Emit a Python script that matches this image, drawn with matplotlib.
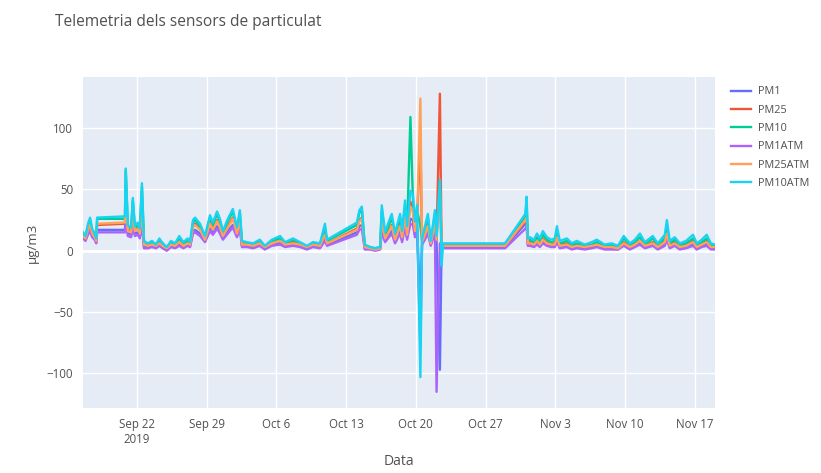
import matplotlib.pyplot as plt
import pandas as pd

# sample times (2019), hour resolution
times = [
    "09-16 14", "09-16 20", "09-17 02", "09-17 07", "09-17 12", "09-17 18", "09-17 22", "09-18 00",
    "09-20 19", "09-20 21", "09-21 02", "09-21 10", "09-21 14", "09-21 19", "09-22 02", "09-22 07",
    "09-22 12", "09-22 17",
    "09-23 02", "09-23 12", "09-23 22", "09-24 06", "09-24 14", "09-25 00", "09-25 10", "09-25 20",
    "09-26 06", "09-26 16", "09-27 02", "09-27 08",
    "09-27 15", "09-27 20", "09-28 08", "09-28 20", "09-29 08", "09-29 15", "09-30 01", "09-30 08",
    "09-30 15", "10-01 03", "10-01 15", "10-02 01", "10-02 08", "10-02 13",
    "10-03 01", "10-03 16", "10-04 08", "10-04 20", "10-05 13", "10-06 09", "10-06 21", "10-07 16",
    "10-08 09", "10-09 02", "10-09 16", "10-10 09", "10-10 21", "10-11 02", "10-14 02", "10-14 08",
    "10-14 14", "10-14 21",
    "10-15 10", "10-15 22", "10-16 10", "10-16 14", "10-16 22", "10-17 05", "10-17 14", "10-17 22",
    "10-18 10", "10-18 15", "10-18 22", "10-19 03", "10-19 11", "10-19 17", "10-19 22", "10-20 03",
    "10-20 11", "10-20 15", "10-20 22", "10-21 05", "10-21 12", "10-21 22", "10-22 02", "10-22 10",
    "10-22 14", "10-22 18", "10-28 23", "10-31 00", "10-31 03", "10-31 06",
    "10-31 11", "10-31 21", "11-01 04", "11-01 11", "11-01 18", "11-02 04", "11-02 14", "11-02 23",
    "11-03 04", "11-03 11", "11-04 04", "11-04 16", "11-05 04", "11-05 23", "11-06 16", "11-07 04",
    "11-07 23", "11-08 16", "11-09 07", "11-09 21", "11-10 12", "11-11 00", "11-11 12", "11-12 00",
    "11-12 19", "11-13 07", "11-14 00", "11-14 05", "11-14 12", "11-15 00", "11-15 12", "11-16 03",
    "11-16 20", "11-17 05", "11-17 17", "11-18 05", "11-18 15", "11-19 01",
]

pm1 = [
    11, 9, 15, 18, 13, 10, 7, 17, 17, 30, 14, 13, 22, 14, 15, 12, 25, 3,
    3, 4, 3, 5, 3, 1, 4, 3, 5, 3, 5, 4,
    16, 17, 14, 8, 18, 15, 20, 16, 10, 16, 21, 12, 21, 4,
    4, 3, 5, 2, 5, 6, 4, 5, 4, 2, 4, 3, 10, 5, 15, 20, 21, 2,
    2, 1, 2, 18, 8, 12, 16, 7, 16, 9, 22, 11, 26, 25, 13, 20, -50, 6, 11, 16, 5, 18, 7, -97, 3, 3, 3, 22, 24, 5,
    5, 4, 6, 4, 7, 5, 4, 4, 9, 3, 4, 2, 3, 2, 3, 4, 2, 2, 1, 5, 2, 4, 6, 3, 5, 2, 6, 11, 3, 5, 2, 3, 6, 2, 4, 6, 2, 2,
]
pm25 = [
    13, 11, 18, 22, 15, 12, 9, 21, 22, 45, 17, 16, 32, 17, 19, 15, 38, 5,
    4, 5, 4, 7, 4, 2, 5, 4, 7, 4, 6, 5,
    20, 22, 18, 10, 23, 18, 25, 20, 13, 20, 27, 15, 26, 5,
    5, 4, 6, 3, 6, 8, 5, 7, 5, 3, 5, 4, 14, 6, 18, 25, 27, 3,
    2, 1, 2, 25, 10, 15, 21, 9, 21, 11, 29, 14, 40, 33, 16, 26, 90, 7, 14, 21, 6, 23, 9, 128, 4, 4, 4, 24, 28, 6,
    7, 5, 8, 6, 10, 7, 5, 6, 12, 5, 6, 3, 5, 3, 4, 5, 3, 3, 2, 7, 3, 5, 8, 4, 7, 3, 8, 15, 5, 7, 3, 5, 8, 3, 5, 8, 3, 3,
]
pm10 = [
    14, 12, 20, 25, 17, 13, 10, 26, 26, 66, 20, 18, 41, 19, 21, 17, 52, 7,
    5, 7, 5, 9, 6, 2, 7, 5, 10, 6, 8, 6,
    23, 25, 20, 11, 27, 21, 30, 24, 15, 24, 32, 17, 31, 7,
    6, 5, 8, 3, 8, 10, 6, 9, 6, 3, 6, 5, 19, 8, 21, 31, 33, 4,
    3, 2, 3, 33, 13, 19, 27, 12, 27, 14, 37, 18, 109, 42, 21, 33, 20, 9, 18, 27, 7, 29, 11, 55, 5, 5, 5, 28, 40, 8,
    9, 7, 11, 8, 13, 9, 7, 8, 16, 6, 8, 5, 6, 4, 5, 7, 4, 5, 3, 10, 5, 7, 11, 5, 10, 5, 10, 20, 6, 9, 5, 6, 10, 5, 7, 10, 5, 4,
]
pm1atm = [
    10, 8, 13, 16, 11, 9, 6, 15, 15, 25, 12, 11, 19, 12, 13, 10, 22, 2,
    2, 3, 2, 4, 2, 0, 3, 2, 4, 2, 4, 3,
    14, 15, 12, 7, 16, 13, 18, 14, 9, 14, 19, 11, 18, 3,
    3, 2, 4, 1, 4, 5, 3, 4, 3, 1, 3, 2, 8, 4, 13, 17, 18, 1,
    1, 0, 1, 15, 7, 10, 14, 6, 14, 7, 19, 9, 22, 21, 11, 17, -80, 5, 9, 14, 4, 15, -115, 6, 2, 2, 2, 18, 20, 4,
    4, 3, 5, 3, 6, 4, 3, 3, 7, 2, 3, 1, 2, 1, 2, 3, 1, 1, 1, 4, 1, 3, 5, 2, 4, 1, 4, 9, 2, 4, 1, 2, 4, 1, 3, 4, 1, 1,
]
pm25atm = [
    12, 10, 17, 21, 14, 11, 8, 22, 23, 40, 16, 15, 30, 16, 18, 14, 35, 5,
    4, 5, 4, 6, 4, 2, 5, 4, 7, 4, 6, 5,
    19, 21, 17, 9, 22, 17, 24, 19, 12, 19, 26, 14, 25, 5,
    5, 4, 6, 3, 6, 8, 5, 6, 5, 3, 5, 4, 13, 6, 17, 24, 26, 3,
    2, 1, 2, 24, 10, 14, 20, 9, 20, 11, 28, 13, 36, 32, 16, 25, 124, 7, 13, 20, 6, 22, 9, 50, 4, 4, 4, 25, 27, 6,
    6, 5, 8, 5, 9, 6, 5, 5, 11, 4, 5, 3, 4, 3, 4, 5, 3, 3, 2, 6, 3, 5, 8, 4, 6, 3, 7, 14, 4, 6, 3, 4, 7, 3, 5, 7, 3, 3,
]
pm10atm = [
    15, 12, 22, 27, 18, 14, 10, 27, 28, 67, 21, 19, 43, 20, 23, 18, 55, 8,
    6, 8, 5, 10, 6, 3, 8, 6, 12, 7, 10, 7,
    25, 27, 22, 12, 29, 23, 32, 26, 16, 26, 34, 19, 33, 8,
    7, 6, 9, 4, 9, 12, 7, 10, 7, 4, 7, 6, 22, 9, 23, 33, 36, 5,
    3, 2, 3, 37, 15, 22, 30, 14, 30, 16, 41, 20, 49, 46, 24, 37, -103, 10, 20, 30, 8, 33, 12, 58, -12, 6, 6, 30, 44, 10,
    11, 9, 14, 10, 16, 11, 9, 10, 20, 8, 10, 6, 8, 5, 7, 9, 5, 6, 4, 12, 6, 9, 14, 7, 12, 6, 13, 25, 8, 11, 6, 8, 13, 6, 9, 13, 6, 5,
]

names = ["PM1", "PM25", "PM10", "PM1ATM", "PM25ATM", "PM10ATM"]
colors = ["#636EFA", "#EF553B", "#00CC96", "#AB63FA", "#FFA15A", "#19D3F3"]
series = [pm1, pm25, pm10, pm1atm, pm25atm, pm10atm]

tick_days = ["2019-09-22", "2019-09-29", "2019-10-06", "2019-10-13", "2019-10-20",
             "2019-10-27", "2019-11-03", "2019-11-10", "2019-11-17"]
tick_labels = ["Sep 22\n2019", "Sep 29", "Oct 6", "Oct 13", "Oct 20",
               "Oct 27", "Nov 3", "Nov 10", "Nov 17"]
y_ticks = [-100, -50, 0, 50, 100]

t = pd.to_datetime(["2019-" + s for s in times], format="%Y-%m-%d %H")

plt.rcParams['font.family'] = ['Open Sans', 'DejaVu Sans']
txt = "#505050"

fig = plt.figure(figsize=(8.21, 4.73), dpi=100)
ax = fig.add_axes([0.1011, 0.1374, 0.7698, 0.6998])
ax.set_facecolor("#E5ECF6")
for s in ax.spines.values():
    s.set_visible(False)

for vals, name, c in zip(series, names, colors):
    ax.plot(t, vals, color=c, lw=1.7, label=name, solid_joinstyle="round", zorder=3)

ax.set_xlim(t[0], t[-1])
ax.set_ylim(-128.2, 141.6)
ax.set_yticks(y_ticks)
ax.set_xticks(pd.to_datetime(tick_days))
ax.set_xticklabels(tick_labels)
ax.grid(True, color="white", lw=1, zorder=0)
ax.axhline(0, color="white", lw=2, zorder=1)
ax.tick_params(length=0, labelsize=8.3, labelcolor=txt, pad=7)

ax.set_xlabel("Data", fontsize=10, color=txt, labelpad=6)
ax.set_ylabel("µg/m3", fontsize=9.5, color=txt, labelpad=6)
fig.text(55 / 821, 1 - 22 / 473, "Telemetria dels sensors de particulat",
         fontsize=11.2, color=txt, va="center", ha="left")

fig.legend(loc="upper left", bbox_to_anchor=(0.878, 0.838), frameon=False,
           fontsize=7.8, handlelength=1.9, labelspacing=0.68, handletextpad=0.6,
           labelcolor=txt)

fig.savefig("out.png", dpi=100, facecolor="white")
